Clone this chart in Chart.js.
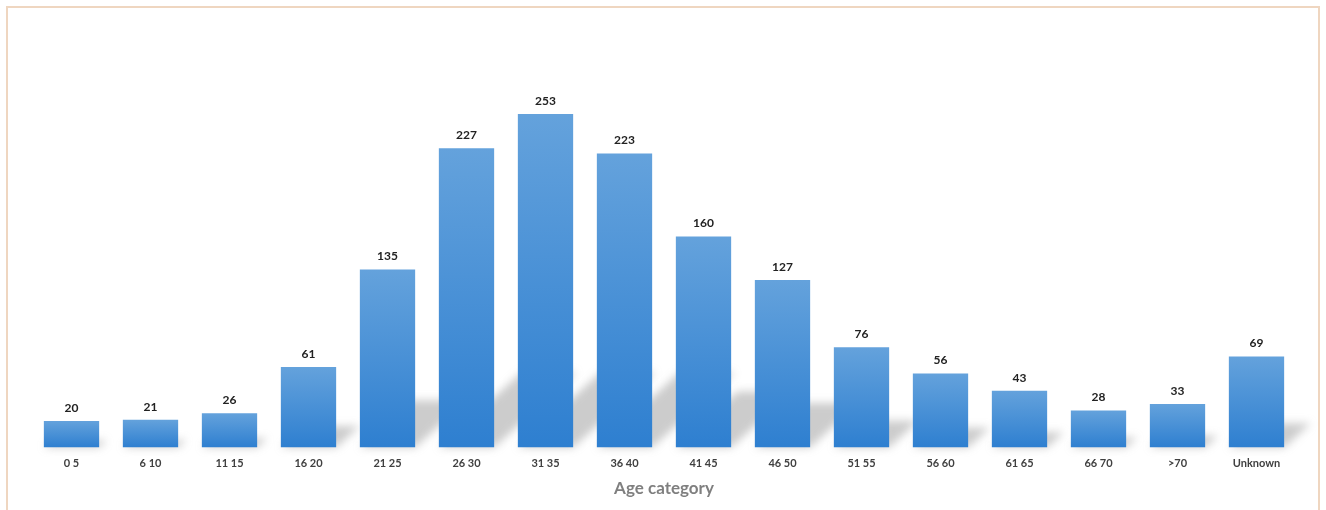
<!DOCTYPE html>
<html>
<head>
<meta charset="utf-8">
<script src="https://cdn.jsdelivr.net/npm/chart.js@4"></script>
<style>
  html, body { margin: 0; padding: 0; background: #fff; }
  #wrap { position: relative; width: 1326px; height: 510px; }
</style>
</head>
<body>
<div id="wrap"><canvas id="ageChart"></canvas></div>
<script>
// 数据
const categories = ['0 5', '6 10', '11 15', '16 20', '21 25', '26 30', '31 35', '36 40',
    '41 45', '46 50', '51 55', '56 60', '61 65', '66 70', '>70', 'Unknown'];
const counts = [20, 21, 26, 61, 135, 227, 253, 223, 160, 127, 76, 56, 43, 28, 33, 69];
const axisTitle = 'Age category';

// 外框
const framePlugin = {
    id: 'frame',
    beforeDraw(chart) {
        const ctx = chart.ctx;
        ctx.save();
        ctx.fillStyle = '#fff';
        ctx.fillRect(0, 0, chart.width, chart.height);
        ctx.strokeStyle = '#efd6c0';
        ctx.lineWidth = 2;
        ctx.strokeRect(7, 7, chart.width - 14, chart.height - 5);
        ctx.restore();
    }
};

// 柱子阴影
const shadowPlugin = {
    id: 'barShadow',
    beforeDatasetsDraw(chart) {
        const ctx = chart.ctx;
        const meta = chart.getDatasetMeta(0);
        ctx.save();
        ctx.filter = 'blur(4px)';
        ctx.fillStyle = 'rgba(120,120,120,0.38)';
        meta.data.forEach((bar, i) => {
            const left = bar.x - bar.width / 2;
            const right = bar.x + bar.width / 2;
            const base = bar.base;
            const dy = Math.min(counts[i] * 0.35, 75);
            const dx = dy * 1.1;
            ctx.beginPath();
            ctx.moveTo(left, base);
            ctx.lineTo(right, base);
            ctx.lineTo(right + dx, base - dy);
            ctx.lineTo(left + dx, base - dy);
            ctx.closePath();
            ctx.fill();
        });
        ctx.restore();
    }
};

// 数值标签
const labelPlugin = {
    id: 'valueLabels',
    afterDatasetsDraw(chart) {
        const ctx = chart.ctx;
        const meta = chart.getDatasetMeta(0);
        ctx.save();
        ctx.font = 'bold 12px Lato, "Open Sans", sans-serif';
        ctx.fillStyle = '#222';
        ctx.textAlign = 'center';
        ctx.textBaseline = 'middle';
        meta.data.forEach((bar, i) => {
            ctx.fillText(counts[i], bar.x, bar.y - 13);
        });
        ctx.restore();
    }
};

new Chart(document.getElementById('ageChart'), {
    type: 'bar',
    data: {
        labels: categories,
        datasets: [{
            data: counts,
            backgroundColor: function(context) {
                const chart = context.chart;
                const area = chart.chartArea;
                if (!area) return '#4a90d9';
                const top = chart.scales.y.getPixelForValue(context.raw);
                const g = chart.ctx.createLinearGradient(0, top, 0, area.bottom);
                g.addColorStop(0, '#64a2dc');
                g.addColorStop(1, '#2e7fd0');
                return g;
            },
            borderWidth: 0,
            categoryPercentage: 1,
            barPercentage: 0.7
        }]
    },
    options: {
        responsive: true,
        maintainAspectRatio: false,
        animation: false,
        layout: {
            padding: { top: 52, left: 32, right: 30, bottom: 11 }
        },
        plugins: {
            legend: { display: false },
            tooltip: { enabled: false }
        },
        scales: {
            x: {
                grid: { display: false, drawTicks: false },
                border: { display: false },
                ticks: {
                    color: '#404040',
                    padding: 9,
                    maxRotation: 0,
                    autoSkip: false,
                    font: { family: 'Lato, "Open Sans", sans-serif', size: 11, weight: 'bold' }
                },
                title: {
                    display: true,
                    text: axisTitle,
                    color: '#7f7f7f',
                    padding: { top: 0, bottom: 0 },
                    font: { family: 'Lato, "Open Sans", sans-serif', size: 17, weight: 'bold' }
                }
            },
            y: {
                display: false,
                min: 0,
                max: 300
            }
        }
    },
    plugins: [framePlugin, shadowPlugin, labelPlugin]
});
</script>
</body>
</html>
